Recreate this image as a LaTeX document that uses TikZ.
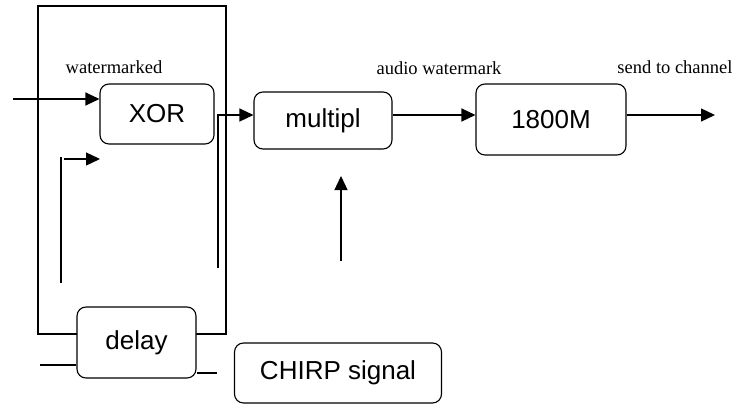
\documentclass[tikz,border=0pt]{standalone}
\usepackage{fontspec}
\setmainfont{Liberation Serif}
\newfontfamily\boxfont{Liberation Sans}
\usetikzlibrary{arrows.meta}
\begin{document}
\begin{tikzpicture}[x=1pt,y=-1pt,
  blk/.style={draw,line width=1.1pt,rounded corners=9pt,fill=white,inner sep=0pt,font=\boxfont\fontsize{26}{30}\selectfont},
  lbl/.style={font=\fontsize{18.5}{20}\selectfont,inner sep=0pt},
  conn/.style={line width=1.3pt},
  arr/.style={line width=1.3pt,-{Triangle[length=14pt,width=13pt]}}]
\useasboundingbox (0,0) rectangle (736,404);
% frame
\node[draw,line width=1.4pt,minimum width=188pt,minimum height=328pt,inner sep=0pt] (frame) at (132,170) {};
% blocks
\node[blk,minimum width=114pt,minimum height=60pt] (xor) at (157,114) {XOR\hspace{14pt}};
\node[blk,minimum width=138pt,minimum height=57pt] (mult) at (323,120.5) {multipl\hspace{8pt}};
\node[blk,minimum width=150pt,minimum height=71pt] (m1800) at (551,119.5) {1800M\hspace{18pt}};
\node[blk,minimum width=119pt,minimum height=71pt] (delay) at (136.5,342.5) {delay\hspace{6pt}};
\node[blk,minimum width=207pt,minimum height=60pt] (chirp) at (338,373) {CHIRP signal\hspace{12pt}};
% labels
\node[lbl] (l1) at (114,67) {watermarked};
\node[lbl] (l2) at (439,68) {audio watermark};
\node[lbl] (l3) at (675,67) {send to channel};
% coordinates
\coordinate (in) at (13,99);
\coordinate (fb1) at (61,283);
\coordinate (fb2) at (61,157);
\coordinate (fa1) at (64,159);
\coordinate (fa2) at (100,159);
\coordinate (xv) at (218,268);
\coordinate (xc) at (218,115);
\coordinate (out) at (715,115);
\coordinate (cu1) at (341,261);
\coordinate (cu2) at (341,176);
\coordinate (dl) at (40,365);
\coordinate (dr) at (217,373);
% connectors
\draw[arr] (in) -- (in -| xor.west);
\draw[conn] (fb1) -- (fb2);
\draw[arr] (fa1) -- (fa2);
\draw[arr] (xv) -- (xc) -- (xc -| mult.west);
\draw[arr] (mult.east |- xc) -- (xc -| m1800.west);
\draw[arr] (m1800.east |- out) -- (out);
\draw[arr] (cu1) -- (cu2);
\draw[conn] (dl) -- (dl -| delay.west);
\draw[conn] (delay.east |- dr) -- (dr);
\end{tikzpicture}
\end{document}
